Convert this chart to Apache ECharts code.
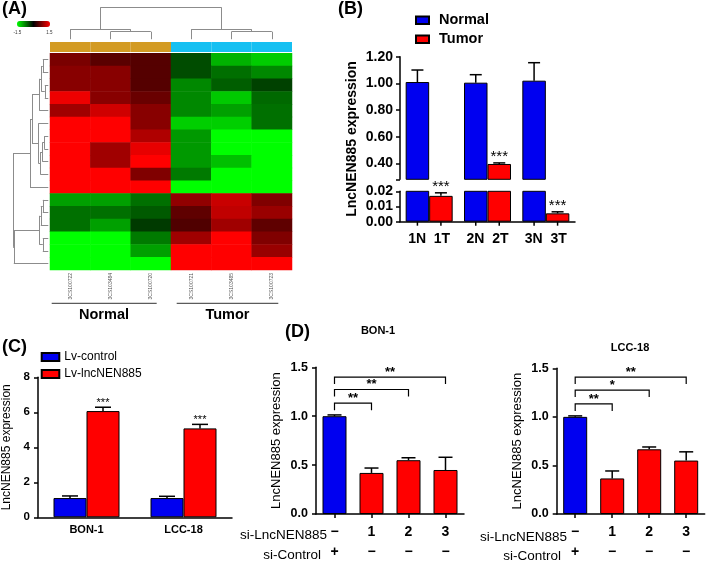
<!DOCTYPE html>
<html><head><meta charset="utf-8">
<script src="https://cdn.jsdelivr.net/npm/echarts@6/dist/echarts.min.js"></script>
<style>html,body{margin:0;padding:0;background:#fff}#c{width:709px;height:562px}</style>
</head><body><div id="c"></div>
<script>
// ================= DATA =================
// Panel A: heatmap
const heatCols = ['3CS100722','3CS103484','3CS100720','3CS100721','3CS103485','3CS100723'];
const heatGroups = ['Normal','Normal','Normal','Tumor','Tumor','Tumor'];
const heatRows = [
  [0.72, 0.53, 0.50, -0.45, -1.05, -1.20],
  [0.80, 0.80, 0.50, -0.45, -0.65, -0.80],
  [0.80, 0.80, 0.50, -0.80, -0.55, -0.38],
  [1.40, 0.80, 0.62, -0.80, -1.18, -0.62],
  [0.94, 1.22, 0.80, -0.80, -0.94, -0.66],
  [1.50, 1.50, 0.80, -1.22, -1.22, -0.66],
  [1.50, 1.50, 1.03, -0.90, -1.50, -1.50],
  [1.50, 0.94, 1.36, -0.90, -1.50, -1.50],
  [1.50, 0.94, 1.50, -0.90, -1.13, -1.50],
  [1.50, 1.50, 0.75, -0.72, -1.50, -1.50],
  [1.50, 1.50, 1.50, -1.50, -1.50, -1.50],
  [-0.94, -0.94, -0.66, 0.85, 1.18, 0.75],
  [-0.66, -0.66, -0.53, 0.56, 1.13, 0.90],
  [-0.66, -0.94, -0.34, 0.47, 0.94, 0.56],
  [-1.50, -1.50, -0.72, 0.94, 1.50, 0.75],
  [-1.50, -1.50, -0.94, 1.50, 1.50, 0.90],
  [-1.50, -1.50, -1.50, 1.50, 1.50, 1.50]
];
const heatRange = [-1.5, 1.5];
// dendrogram merges: [childA, childB, height]
const colLinkage = [[1,2,7.6],[0,6,10],[4,5,7.6],[3,8,10],[7,9,32]];
const rowLinkage = [
  [0,1,5.5],[2,3,3.5],[17,18,7],[19,4,9],[6,7,4],[21,8,6],[22,9,8],[5,23,10],
  [20,24,16.3],[25,10,18.3],[11,12,5.5],[27,13,7.5],[14,15,5.5],[28,29,9],[30,16,34.5],[26,31,35.3]
];

// Panel B
const bCats = ['1N  1T','2N  2T','3N  3T'];
const bNormal = [1.01, 1.005, 1.02];
const bNormalErr = [0.09, 0.06, 0.135];
const bTumor = [0.017, 0.395, 0.0055];
const bTumorErr = [0.002, 0.008, 0.001];
const bTumorSig = ['***','***','***'];
const bUpperRange = [0.28, 1.2];
const bUpperTicks = [0.28, 0.4, 0.6, 0.8, 1.0, 1.2];
const bUpperLabels = [0.4, 0.6, 0.8, 1.0, 1.2];
const bLowerRange = [0, 0.02];

// Panel C
const cCats = ['BON-1','LCC-18'];
const cControl = [1.1, 1.1];
const cControlErr = [0.12, 0.1];
const cOver = [6.07, 5.08];
const cOverErr = [0.22, 0.23];
const cSig = ['***','***'];

// Panel D
const dLabels = ['\u2212\n+','1\n\u2212','2\n\u2212','3\n\u2212'];
const dBonVals = [1.0, 0.42, 0.55, 0.45];
const dBonErr = [0.013, 0.05, 0.025, 0.13];
const dLccVals = [1.0, 0.366, 0.666, 0.55];
const dLccErr = [0.01, 0.077, 0.024, 0.09];
const dBonComp = [[0,1,1.133,'**'],[0,2,1.273,'**'],[0,3,1.40,'**']];
const dLccComp = [[0,1,1.133,'**'],[0,2,1.276,'*'],[0,3,1.41,'**']];

// ================= HELPERS =================
const FONT = '"Liberation Sans", Arial, Helvetica, sans-serif';
const fnt = (s, b) => (b ? 'bold ' : '') + s + 'px ' + FONT;
const BLUE = '#0000f0', RED = '#ff0000';
const axLine = {show: true, lineStyle: {color: '#000', width: 1.5}};
const axTick = {show: true, length: 4, lineStyle: {color: '#000', width: 1.5}};

function dendroSegs(linkage, n, vertical) {
  const pos = [], h = [];
  for (let i = 0; i < n; i++) { pos[i] = i + 0.5; h[i] = 0; }
  const segs = [];
  const P = (p, hh) => vertical ? [p, hh] : [hh, p];
  linkage.forEach(([a, b, ht], k) => {
    segs.push({coords: [P(pos[a], h[a]), P(pos[a], ht)]});
    segs.push({coords: [P(pos[a], ht), P(pos[b], ht)]});
    segs.push({coords: [P(pos[b], ht), P(pos[b], h[b])]});
    pos[n + k] = (pos[a] + pos[b]) / 2; h[n + k] = ht;
  });
  return segs;
}
const colMax = Math.max(...colLinkage.map(l => l[2]));
const rowMax = Math.max(...rowLinkage.map(l => l[2]));

const heatData = [];
heatRows.forEach((r, ri) => r.forEach((v, ci) => heatData.push([ci, ri, v])));

function errRender(items, barW, capW, starFont, starGap, ticks) {
  return function (params, api) {
    const it = items[params.dataIndex];
    const rect = params.coordSys;
    const x = api.coord([it.cat, 0])[0] + it.side * barW / 2;
    const pv = api.coord([it.cat, it.v])[1];
    const pt = api.coord([it.cat, it.v + it.e])[1];
    const yTop = rect.y, yBot = rect.y + rect.height;
    const ch = [];
    if (pt >= yTop - 1 && pt <= yBot) {
      ch.push({type: 'line', shape: {x1: x, y1: Math.min(pv, yBot), x2: x, y2: pt}, style: {stroke: '#000', lineWidth: 1.5}});
      ch.push({type: 'line', shape: {x1: x - capW / 2, y1: pt, x2: x + capW / 2, y2: pt}, style: {stroke: '#000', lineWidth: 1.5}});
      if (it.sig) ch.push({type: 'text', style: {text: it.sig, x: x, y: pt - starGap, align: 'center', verticalAlign: 'middle', textAlign: 'center', textVerticalAlign: 'middle', font: starFont, fill: '#000'}});
    }
    if (ticks) ch.push({type: 'line', shape: {x1: x, y1: yBot, x2: x, y2: yBot + 4}, style: {stroke: '#000', lineWidth: 1.5}});
    return {type: 'group', children: ch};
  };
}
function bracketRender(comps) {
  return function (params, api) {
    const c = comps[params.dataIndex];
    const p1 = api.coord([c[0], c[2]]), p2 = api.coord([c[1], c[2]]);
    const st = {stroke: '#000', lineWidth: 1.2, fill: null};
    return {type: 'group', children: [
      {type: 'polyline', shape: {points: [[p1[0], p1[1] + 7], [p1[0], p1[1]], [p2[0], p2[1]], [p2[0], p2[1] + 7]]}, style: st},
      {type: 'text', style: {text: c[3], x: (p1[0] + p2[0]) / 2, y: p1[1] - 5, align: 'center', verticalAlign: 'middle', textAlign: 'center', textVerticalAlign: 'middle', font: fnt(13, true), fill: '#000'}}
    ]};
  };
}

const bItems = [];
bCats.forEach((c, i) => {
  bItems.push({cat: i, v: bNormal[i], e: bNormalErr[i], side: -1, sig: ''});
  bItems.push({cat: i, v: bTumor[i], e: bTumorErr[i], side: 1, sig: bTumorSig[i]});
});
const cItems = [];
cCats.forEach((c, i) => {
  cItems.push({cat: i, v: cControl[i], e: cControlErr[i], side: -1, sig: ''});
  cItems.push({cat: i, v: cOver[i], e: cOverErr[i], side: 1, sig: cSig[i]});
});
const dBonItems = dBonVals.map((v, i) => ({cat: i, v: v, e: dBonErr[i], side: 0, sig: ''}));
const dLccItems = dLccVals.map((v, i) => ({cat: i, v: v, e: dLccErr[i], side: 0, sig: ''}));

const hidX = (gi, extra) => Object.assign({gridIndex: gi, show: false}, extra);

function dAxes(gi, data) {
  return {
    x: {type: 'category', gridIndex: gi, data: data,
      axisLine: axLine, axisTick: Object.assign({alignWithLabel: true}, axTick),
      axisLabel: {color: '#000', fontSize: 14, fontWeight: 'bold', lineHeight: 20, margin: 8, interval: 0}},
    y: {type: 'value', gridIndex: gi, min: 0, max: 1.5, interval: 0.5,
      axisLine: axLine, axisTick: axTick, splitLine: {show: false},
      axisLabel: {color: '#000', fontSize: 12.5, fontWeight: 'bold', margin: 8, formatter: v => v.toFixed(1)},
      name: 'LncNEN885 expression', nameLocation: 'middle', nameGap: 33,
      nameTextStyle: {color: '#000', fontSize: 13}}
  };
}
const dL = dAxes(7, dLabels), dR = dAxes(8, dLabels);

// ================= CHART =================
const chart = echarts.init(document.getElementById('c'), null, {renderer: 'canvas'});
const option = {
  animation: false,
  backgroundColor: '#fff',
  textStyle: {fontFamily: FONT},
  grid: [
    {left: 50, top: 7.3, width: 242, height: 32},        // 0 top dendrogram
    {left: 50, top: 42, width: 242, height: 10},         // 1 group strip
    {left: 50, top: 53.3, width: 242, height: 216.7},    // 2 heatmap
    {left: 13, top: 53.3, width: 35.3, height: 216.7},   // 3 row dendrogram
    {left: 400, top: 56.7, width: 175, height: 122.6},   // 4 B upper
    {left: 400, top: 191.3, width: 175, height: 30.4},   // 5 B lower
    {left: 36, top: 377.3, width: 196, height: 140},     // 6 C
    {left: 316, top: 367.3, width: 148, height: 150},    // 7 D left
    {left: 556.7, top: 368.3, width: 148, height: 150}   // 8 D right
  ],
  xAxis: [
    hidX(0, {type: 'value', min: 0, max: heatCols.length}),
    hidX(1, {type: 'category', data: heatCols}),
    {type: 'category', gridIndex: 2, data: heatCols, axisLine: {show: false}, axisTick: {show: false},
      axisLabel: {rotate: 90, fontSize: 5, color: '#555', margin: 3, interval: 0}},
    hidX(3, {type: 'value', min: 0, max: rowMax, inverse: true}),
    hidX(4, {type: 'category', data: bCats}),
    {type: 'category', gridIndex: 5, data: bCats, axisLine: axLine, axisTick: {show: false},
      axisLabel: {color: '#000', fontSize: 14, fontWeight: 'bold', margin: 10, interval: 0}},
    {type: 'category', gridIndex: 6, data: cCats, axisLine: axLine, axisTick: {show: false},
      axisLabel: {color: '#000', fontSize: 11, fontWeight: 'bold', margin: 7}},
    dL.x, dR.x
  ],
  yAxis: [
    hidX(0, {type: 'value', min: 0, max: colMax}),
    hidX(1, {type: 'value', min: 0, max: 1}),
    hidX(2, {type: 'category', data: heatRows.map((r, i) => String(i)), inverse: true}),
    hidX(3, {type: 'value', min: 0, max: heatRows.length, inverse: true}),
    {type: 'value', gridIndex: 4, min: bUpperRange[0], max: bUpperRange[1],
      axisLine: axLine, splitLine: {show: false},
      axisTick: Object.assign({customValues: bUpperTicks}, axTick),
      axisLabel: {customValues: bUpperLabels, color: '#000', fontSize: 14, fontWeight: 'bold', margin: 7, formatter: v => v.toFixed(2)}},
    {type: 'value', gridIndex: 5, min: bLowerRange[0], max: bLowerRange[1], interval: 0.01,
      axisLine: axLine, axisTick: axTick, splitLine: {show: false},
      axisLabel: {color: '#000', fontSize: 14, fontWeight: 'bold', margin: 7, formatter: v => v.toFixed(2)}},
    {type: 'value', gridIndex: 6, min: 0, max: 8, interval: 2,
      axisLine: axLine, axisTick: axTick, splitLine: {show: false},
      axisLabel: {color: '#000', fontSize: 11.5, fontWeight: 'bold', margin: 8},
      name: 'LncNEN885 expression', nameLocation: 'middle', nameGap: 25,
      nameTextStyle: {color: '#000', fontSize: 12}},
    dL.y, dR.y
  ],
  visualMap: {
    type: 'continuous', seriesIndex: 3, min: heatRange[0], max: heatRange[1],
    inRange: {color: ['#00ff00', '#000000', '#ff0000']},
    orient: 'horizontal', left: 17, top: 21, itemWidth: 6, itemHeight: 33,
    calculable: false, padding: 0, text: null, hoverLink: false
  },
  legend: [
    {data: ['Normal', 'Tumor'], orient: 'vertical', left: 415, top: 12.3, itemGap: 3,
      icon: 'rect', itemWidth: 13, itemHeight: 7.5, selectedMode: false, padding: 0,
      textStyle: {color: '#000', fontSize: 14.5, fontWeight: 'bold', lineHeight: 16, padding: [0, 0, 0, 5]}},
    {data: ['Lv-control', 'Lv-lncNEN885'], orient: 'vertical', left: 40.7, top: 350, itemGap: 3,
      icon: 'rect', itemWidth: 17.6, itemHeight: 8, selectedMode: false, padding: 0,
      textStyle: {color: '#000', fontSize: 12, lineHeight: 14}}
  ],
  series: [
    // 0 top dendrogram
    {type: 'lines', coordinateSystem: 'cartesian2d', xAxisIndex: 0, yAxisIndex: 0, silent: true,
      data: dendroSegs(colLinkage, heatCols.length, true), lineStyle: {color: '#8c8c8c', width: 1, opacity: 1}},
    // 1 row dendrogram
    {type: 'lines', coordinateSystem: 'cartesian2d', xAxisIndex: 3, yAxisIndex: 3, silent: true,
      data: dendroSegs(rowLinkage, heatRows.length, false), lineStyle: {color: '#8c8c8c', width: 1, opacity: 1}},
    // 2 group strip
    {type: 'bar', xAxisIndex: 1, yAxisIndex: 1, barWidth: '100%', barCategoryGap: '0%', silent: true,
      data: heatGroups.map(g => ({value: 1, itemStyle: {color: g === 'Normal' ? '#d39b24' : '#16c0f2'}}))},
    // 3 heatmap
    {type: 'heatmap', xAxisIndex: 2, yAxisIndex: 2, data: heatData, silent: true, itemStyle: {borderWidth: 0}},
    // 4-7 panel B bars
    {name: 'Normal', type: 'bar', xAxisIndex: 4, yAxisIndex: 4, data: bNormal, barWidth: 23.5, barGap: '0%',
      itemStyle: {color: BLUE, borderColor: '#000', borderWidth: 1}},
    {name: 'Tumor', type: 'bar', xAxisIndex: 4, yAxisIndex: 4, data: bTumor.map(v => v > bUpperRange[0] ? v : '-'), barWidth: 23.5, barGap: '0%',
      itemStyle: {color: RED, borderColor: '#000', borderWidth: 1}},
    {name: 'Normal', type: 'bar', xAxisIndex: 5, yAxisIndex: 5, data: bNormal, barWidth: 23.5, barGap: '0%',
      itemStyle: {color: BLUE, borderColor: '#000', borderWidth: 1}},
    {name: 'Tumor', type: 'bar', xAxisIndex: 5, yAxisIndex: 5, data: bTumor, barWidth: 23.5, barGap: '0%',
      itemStyle: {color: RED, borderColor: '#000', borderWidth: 1}},
    {type: 'custom', xAxisIndex: 4, yAxisIndex: 4, data: bItems.map(it => [it.cat, it.v, it.e]),
      renderItem: errRender(bItems, 23.5, 12, fnt(15, false), 6, false), silent: true, z: 5},
    {type: 'custom', xAxisIndex: 5, yAxisIndex: 5, data: bItems.map(it => [it.cat, it.v, it.e]),
      renderItem: errRender(bItems, 23.5, 12, fnt(15, false), 6, true), silent: true, z: 5},
    // panel C
    {name: 'Lv-control', type: 'bar', xAxisIndex: 6, yAxisIndex: 6, data: cControl, barWidth: 33, barGap: '0%',
      itemStyle: {color: BLUE, borderColor: '#000', borderWidth: 1}},
    {name: 'Lv-lncNEN885', type: 'bar', xAxisIndex: 6, yAxisIndex: 6, data: cOver, barWidth: 33, barGap: '0%',
      itemStyle: {color: RED, borderColor: '#000', borderWidth: 1}},
    {type: 'custom', xAxisIndex: 6, yAxisIndex: 6, data: cItems.map(it => [it.cat, it.v, it.e]),
      renderItem: errRender(cItems, 33, 16, fnt(11, false), 4, false), silent: true, z: 5},
    // panel D left
    {type: 'bar', xAxisIndex: 7, yAxisIndex: 7, barWidth: 24,
      data: dBonVals.map((v, i) => ({value: v, itemStyle: {color: i === 0 ? BLUE : RED}})),
      itemStyle: {borderColor: '#000', borderWidth: 1}},
    {type: 'custom', xAxisIndex: 7, yAxisIndex: 7, data: dBonItems.map(it => [it.cat, it.v, it.e]),
      renderItem: errRender(dBonItems, 0, 14, fnt(12, true), 5, false), silent: true, z: 5},
    {type: 'custom', xAxisIndex: 7, yAxisIndex: 7, data: dBonComp.map(c => [c[0], c[2]]),
      renderItem: bracketRender(dBonComp), silent: true, z: 5},
    // panel D right
    {type: 'bar', xAxisIndex: 8, yAxisIndex: 8, barWidth: 24,
      data: dLccVals.map((v, i) => ({value: v, itemStyle: {color: i === 0 ? BLUE : RED}})),
      itemStyle: {borderColor: '#000', borderWidth: 1}},
    {type: 'custom', xAxisIndex: 8, yAxisIndex: 8, data: dLccItems.map(it => [it.cat, it.v, it.e]),
      renderItem: errRender(dLccItems, 0, 14, fnt(12, true), 5, false), silent: true, z: 5},
    {type: 'custom', xAxisIndex: 8, yAxisIndex: 8, data: dLccComp.map(c => [c[0], c[2]]),
      renderItem: bracketRender(dLccComp), silent: true, z: 5}
  ],
  graphic: [
    {type: 'text', x: 2, y: 9, style: {text: '(A)', font: fnt(18, true), fill: '#000', verticalAlign: 'middle', textVerticalAlign: 'middle'}},
    {type: 'text', x: 338, y: 9, style: {text: '(B)', font: fnt(18, true), fill: '#000', verticalAlign: 'middle', textVerticalAlign: 'middle'}},
    {type: 'text', x: 2, y: 347, style: {text: '(C)', font: fnt(18, true), fill: '#000', verticalAlign: 'middle', textVerticalAlign: 'middle'}},
    {type: 'text', x: 285, y: 332, style: {text: '(D)', font: fnt(18, true), fill: '#000', verticalAlign: 'middle', textVerticalAlign: 'middle'}},
    {type: 'text', x: 17.5, y: 33, style: {text: String(heatRange[0]), font: fnt(4.5), fill: '#333', align: 'center', verticalAlign: 'middle', textAlign: 'center', textVerticalAlign: 'middle'}},
    {type: 'text', x: 49.3, y: 33, style: {text: String(heatRange[1]), font: fnt(4.5), fill: '#333', align: 'center', verticalAlign: 'middle', textAlign: 'center', textVerticalAlign: 'middle'}},
    {type: 'line', shape: {x1: 51.7, y1: 303.3, x2: 156.7, y2: 303.3}, style: {stroke: '#333', lineWidth: 1}},
    {type: 'line', shape: {x1: 176.7, y1: 303.3, x2: 278.3, y2: 303.3}, style: {stroke: '#333', lineWidth: 1}},
    {type: 'text', x: 104, y: 315, style: {text: 'Normal', font: fnt(14.5, true), fill: '#000', align: 'center', verticalAlign: 'middle', textAlign: 'center', textVerticalAlign: 'middle'}},
    {type: 'text', x: 227.5, y: 315, style: {text: 'Tumor', font: fnt(14.5, true), fill: '#000', align: 'center', verticalAlign: 'middle', textAlign: 'center', textVerticalAlign: 'middle'}},
    {type: 'text', x: 352, y: 139, rotation: Math.PI / 2, style: {text: 'LncNEN885 expression', font: fnt(14, true), fill: '#000', align: 'center', verticalAlign: 'middle', textAlign: 'center', textVerticalAlign: 'middle'}},
    {type: 'text', x: 378, y: 331, style: {text: 'BON-1', font: fnt(11, true), fill: '#000', align: 'center', verticalAlign: 'middle', textAlign: 'center', textVerticalAlign: 'middle'}},
    {type: 'text', x: 630, y: 348, style: {text: 'LCC-18', font: fnt(11, true), fill: '#000', align: 'center', verticalAlign: 'middle', textAlign: 'center', textVerticalAlign: 'middle'}},
    {type: 'text', x: 327, y: 535, style: {text: 'si-LncNEN885', font: fnt(13.5), fill: '#000', align: 'right', verticalAlign: 'middle', textAlign: 'right', textVerticalAlign: 'middle'}},
    {type: 'text', x: 321, y: 555, style: {text: 'si-Control', font: fnt(13.5), fill: '#000', align: 'right', verticalAlign: 'middle', textAlign: 'right', textVerticalAlign: 'middle'}},
    {type: 'text', x: 567, y: 537, style: {text: 'si-LncNEN885', font: fnt(13.5), fill: '#000', align: 'right', verticalAlign: 'middle', textAlign: 'right', textVerticalAlign: 'middle'}},
    {type: 'text', x: 561, y: 556.5, style: {text: 'si-Control', font: fnt(13.5), fill: '#000', align: 'right', verticalAlign: 'middle', textAlign: 'right', textVerticalAlign: 'middle'}}
  ]
};
chart.setOption(option);
</script>
</body></html>
